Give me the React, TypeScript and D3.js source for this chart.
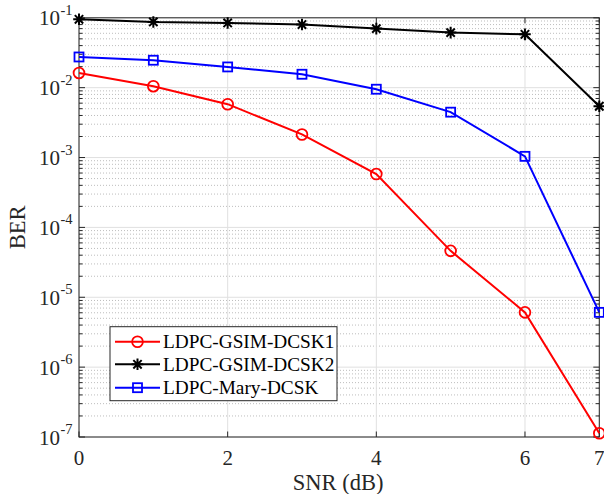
import React from "react";
import * as d3 from "d3";

const snr = [0, 1, 2, 3, 4, 5, 6, 7];
const berGsim1 = [0.01625, 0.0105, 0.0058, 0.00214, 0.00058, 4.62e-5, 6.08e-6, 1.13e-7];
const berGsim2 = [0.0952, 0.0871, 0.0843, 0.08, 0.07, 0.0614, 0.058, 0.00542];
const berMary = [0.0275, 0.0247, 0.0198, 0.01556, 0.0095, 0.00446, 0.00104, 6.08e-6];
const xTicks = [0, 2, 4, 6, 7];
const yExps = [-1, -2, -3, -4, -5, -6, -7];
const seriesNames = ["LDPC-GSIM-DCSK1", "LDPC-GSIM-DCSK2", "LDPC-Mary-DCSK"];
const seriesColors = ["#ff0000", "#000000", "#0000ff"];

const W = 604, H = 494;
const L = 79, R = 599.3, T = 17.8, B = 437;
const FONT = "'Liberation Serif', 'DejaVu Serif', serif";
const AX = "#262626";

function Marker({ kind, x, y, color }: { kind: number; x: number; y: number; color: string }) {
  if (kind === 0) return <circle cx={x} cy={y} r={5.4} fill="none" stroke={color} strokeWidth={1.8} />;
  if (kind === 2) return <rect x={x - 4.5} y={y - 4.5} width={9} height={9} fill="none" stroke={color} strokeWidth={1.8} />;
  const s = 5.8;
  const d = `M${x - s},${y}H${x + s}M${x},${y - s}V${y + s}M${x - s * 0.72},${y - s * 0.72}L${x + s * 0.72},${y + s * 0.72}M${x - s * 0.72},${y + s * 0.72}L${x + s * 0.72},${y - s * 0.72}`;
  return <path d={d} stroke={color} strokeWidth={2} fill="none" />;
}

export default function App() {
  const x = d3.scaleLinear().domain([0, 7]).range([L, R]);
  const y = d3.scaleLog().domain([1e-7, 1e-1]).range([B, T]);
  const line = d3.line<[number, number]>().x((d) => x(d[0])).y((d) => y(d[1]));
  const data = [berGsim1, berGsim2, berMary];

  const minor: number[] = [];
  for (let e = -7; e < -1; e++) for (let k = 2; k <= 9; k++) minor.push(k * Math.pow(10, e));

  const legX = 110, legY = 326.7, legW = 227, legH = 74;
  const rows = [341.7, 364.3, 387.7];

  return (
    <svg width={W} height={H} style={{ position: "absolute", left: 0, top: 0, background: "#fff" }} fontFamily={FONT}>
      <rect x={0} y={0} width={W} height={H} fill="#fff" />
      {minor.map((v, i) => (
        <line key={"mg" + i} x1={L} x2={R} y1={y(v)} y2={y(v)} stroke="#bdbdbd" strokeWidth={1} strokeDasharray="1,2" />
      ))}
      {yExps.map((e) => (
        <line key={"yg" + e} x1={L} x2={R} y1={y(Math.pow(10, e))} y2={y(Math.pow(10, e))} stroke="#e0e0e0" strokeWidth={1} />
      ))}
      {xTicks.map((t) => (
        <line key={"xg" + t} x1={x(t)} x2={x(t)} y1={T} y2={B} stroke="#e0e0e0" strokeWidth={1} />
      ))}
      <rect x={L} y={T} width={R - L} height={B - T} fill="none" stroke={AX} strokeWidth={1} />
      {xTicks.map((t) => (
        <g key={"xt" + t}>
          <line x1={x(t)} x2={x(t)} y1={B} y2={B - 5.5} stroke={AX} />
          <line x1={x(t)} x2={x(t)} y1={T} y2={T + 5.5} stroke={AX} />
          <text x={x(t)} y={464.5} fontSize={21} textAnchor="middle" fill={AX}>{t}</text>
        </g>
      ))}
      {yExps.map((e) => (
        <g key={"yt" + e}>
          <line x1={L} x2={L + 6} y1={y(Math.pow(10, e))} y2={y(Math.pow(10, e))} stroke={AX} />
          <line x1={R} x2={R - 6} y1={y(Math.pow(10, e))} y2={y(Math.pow(10, e))} stroke={AX} />
          <text x={60} y={y(Math.pow(10, e)) + 7.5} fontSize={21} textAnchor="end" fill={AX}>10</text>
          <text x={60.5} y={y(Math.pow(10, e)) - 3} fontSize={14.5} textAnchor="start" fill={AX}>{e}</text>
        </g>
      ))}
      {minor.map((v, i) => (
        <g key={"mt" + i}>
          <line x1={L} x2={L + 3.5} y1={y(v)} y2={y(v)} stroke={AX} />
          <line x1={R} x2={R - 3.5} y1={y(v)} y2={y(v)} stroke={AX} />
        </g>
      ))}
      {data.map((vals, si) => {
        const pts = snr.map((s, i) => [s, vals[i]] as [number, number]);
        return (
          <g key={"s" + si}>
            <path d={line(pts) || ""} fill="none" stroke={seriesColors[si]} strokeWidth={2} />
            {pts.map((p, i) => (
              <Marker key={i} kind={si} x={x(p[0])} y={y(p[1])} color={seriesColors[si]} />
            ))}
          </g>
        );
      })}
      <text x={(L + R) / 2 - 1} y={489.5} fontSize={22.5} textAnchor="middle" fill={AX}>SNR (dB)</text>
      <text transform={`translate(25,${(T + B) / 2}) rotate(-90)`} fontSize={22.5} textAnchor="middle" fill={AX}>BER</text>
      <rect x={legX} y={legY} width={legW} height={legH} fill="#fff" stroke={AX} strokeWidth={1} />
      {seriesNames.map((n, i) => (
        <g key={"l" + i}>
          <line x1={115} x2={160} y1={rows[i]} y2={rows[i]} stroke={seriesColors[i]} strokeWidth={2} />
          <Marker kind={i} x={137.5} y={rows[i]} color={seriesColors[i]} />
          <text x={163} y={rows[i] + 6.5} fontSize={19.3} fill="#000">{n}</text>
        </g>
      ))}
    </svg>
  );
}
